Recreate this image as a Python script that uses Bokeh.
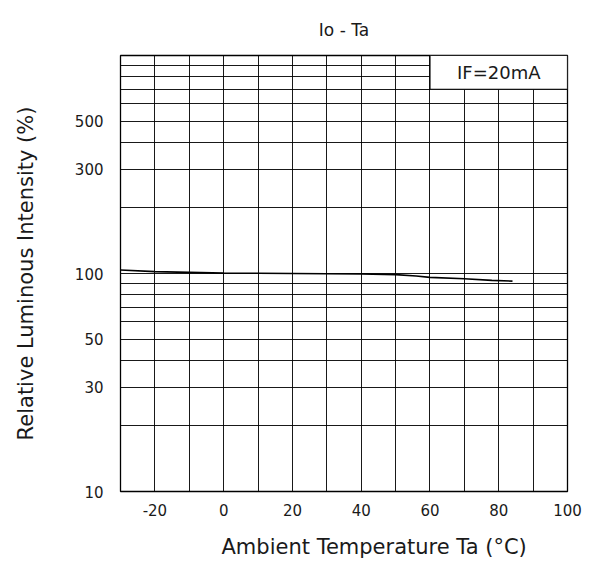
from bokeh.plotting import figure
from bokeh.models import Range1d, FixedTicker, NumeralTickFormatter, Label, Title
from bokeh.embed import file_html
from bokeh.resources import INLINE

# ---- data ----
temp_c = [-30, -20, -10, 0, 10, 20, 30, 40, 50, 56, 60, 70, 78, 84]
rel_intensity = [103.8, 102.0, 101.2, 100.4, 100.2, 100.0, 99.8, 99.6, 98.8, 97.4, 96.0, 94.6, 93.0, 92.3]
x_ticks = [-20, 0, 20, 40, 60, 80, 100]
y_ticks = [10, 30, 50, 100, 300, 500]
x_grid = [-30, -20, -10, 0, 10, 20, 30, 40, 50, 60, 70, 80, 90, 100]
y_grid = [10, 20, 30, 40, 50, 60, 70, 80, 90, 100,
          200, 300, 400, 500, 600, 700, 800, 900, 1000]
title_text = "Io - Ta"
x_label = "Ambient Temperature Ta (°C)"
y_label = "Relative Luminous Intensity (%)"
note_text = "IF=20mA"

FONT = "DejaVu Sans"
INK = "#1a1a1a"

p = figure(width=605, height=585, output_backend="svg", toolbar_location=None,
           x_range=Range1d(-30, 100), y_range=Range1d(10, 1000), y_axis_type="log",
           min_border_left=120, min_border_right=38, min_border_top=55, min_border_bottom=94)

p.title.text = title_text
p.title.align = "center"
p.title.standoff = 32
p.title.text_font = FONT
p.title.text_font_style = "normal"
p.title.text_font_size = "17px"
p.title.text_color = INK

p.outline_line_color = "black"
p.outline_line_width = 1.3
p.background_fill_color = "white"
p.border_fill_color = "white"

for ax in (p.xaxis[0], p.yaxis[0]):
    ax.axis_line_color = None
    ax.major_tick_line_color = None
    ax.minor_tick_line_color = None
    ax.major_tick_out = 0
    ax.major_tick_in = 0
    ax.minor_tick_out = 0
    ax.minor_tick_in = 0
    ax.major_label_text_font = FONT
    ax.major_label_text_font_size = "15px"
    ax.major_label_text_color = INK

p.xaxis[0].ticker = FixedTicker(ticks=x_ticks)
p.xaxis[0].formatter = NumeralTickFormatter(format="0")
p.xaxis[0].major_label_standoff = 12
p.yaxis[0].ticker = FixedTicker(ticks=y_ticks)
p.yaxis[0].formatter = NumeralTickFormatter(format="0")
p.yaxis[0].major_label_standoff = 17
p.yaxis[0].axis_label = y_label
p.yaxis[0].axis_label_standoff = 34
p.yaxis[0].axis_label_text_font = FONT
p.yaxis[0].axis_label_text_font_style = "normal"
p.yaxis[0].axis_label_text_font_size = "21px"
p.yaxis[0].axis_label_text_color = INK

p.xgrid[0].ticker = FixedTicker(ticks=x_grid)
p.ygrid[0].ticker = FixedTicker(ticks=y_grid)
for g in (p.xgrid[0], p.ygrid[0]):
    g.grid_line_color = "black"
    g.grid_line_width = 1
    g.grid_line_alpha = 0.9

# x label as a title below so it can be shifted right like the reference
p.add_layout(Title(text=x_label, align="left", offset=101, vertical_align="top", standoff=32,
                   text_font=FONT, text_font_style="normal", text_font_size="21px",
                   text_color=INK), "below")

# curve
p.line(temp_c, rel_intensity, line_color="black", line_width=1.6)

# condition box
p.quad(left=60, right=100, bottom=700, top=1000, fill_color="white",
       line_color="black", line_width=1.2)
p.add_layout(Label(x=80, y=837, text=note_text, text_align="center", text_baseline="middle",
                   text_font=FONT, text_font_size="18px", text_color=INK))

open("out.html", "w").write(file_html(p, INLINE))
